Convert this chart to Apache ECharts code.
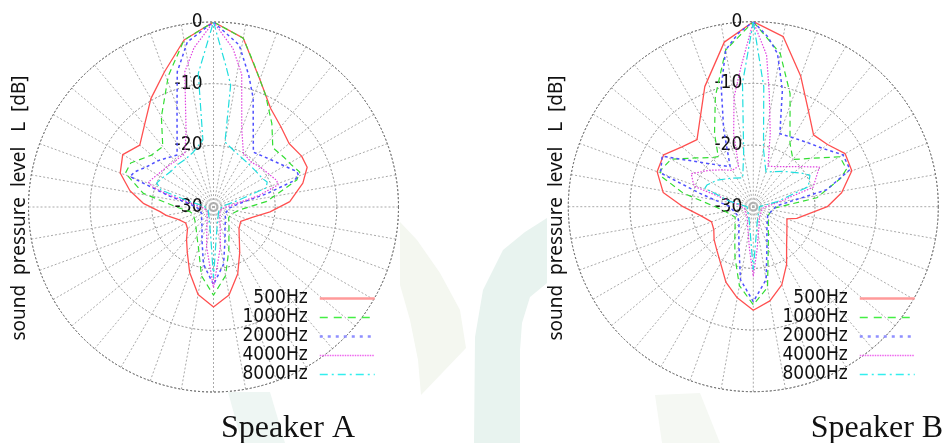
<!DOCTYPE html>
<html>
<head>
    <meta charset="utf-8">
    <title>Speaker directivity</title>
    <script src="https://cdn.jsdelivr.net/npm/echarts@6/dist/echarts.min.js"></script>
    <style>
        html, body { margin: 0; padding: 0; background: #fff; }
        #main { width: 950px; height: 443px; }
    </style>
</head>
<body>
<div id="main"></div>
<script type="text/javascript">
// frequencies (legend) and radius tick labels
var freqs = ['500Hz', '1000Hz', '2000Hz', '4000Hz', '8000Hz'];
var levelTicks = [-30, -20, -10, 0];
var speakers = ['Speaker A', 'Speaker B'];

// [angle in deg clockwise from front, level in dB]  -- Speaker A
var a500 = [[0,0],[10,-2.2],[20,-8],[30,-11.5],[40,-13],[50,-14],[60,-13.5],[67,-13.5],[75,-15],[86,-17.6],[95,-20.8],[105,-23.5],[118,-25],[130,-24.6],[140,-23.5],[150,-21.5],[160,-18.5],[170,-15.5],[180,-13.8],[190,-15.6],[200,-18.7],[210,-21.5],[220,-23.2],[230,-24.5],[240,-24.8],[250,-24],[260,-22.2],[265,-21.3],[273,-18.6],[281,-16.2],[290,-13.9],[300,-13],[310,-14.4],[320,-12.6],[330,-9.7],[340,-6.7],[350,-2.5],[360,0]];
var a1000 = [[0,0],[10,-2.2],[16,-6],[25,-10],[35,-13.5],[45,-16.4],[55,-16],[62,-15.6],[68,-14.9],[72,-15.8],[84,-21.3],[96,-25.7],[110,-26.8],[125,-27],[140,-26.1],[150,-25],[160,-22.7],[170,-18.7],[180,-15.7],[190,-18.7],[200,-22.9],[210,-24.6],[220,-25.6],[235,-26.3],[250,-26.5],[259,-26.1],[270,-24],[281,-18.4],[291,-14.7],[298,-14.8],[310,-16.9],[320,-17.2],[330,-13.1],[341,-7.5],[350,-2.5],[360,0]];
var a2000 = [[0,0],[9,-3.4],[15,-7.9],[20,-11.2],[30,-17.1],[36,-19],[50,-18],[60,-16.7],[67,-15.3],[70,-15.3],[72,-16.4],[76,-21.1],[82,-25.7],[95,-27.5],[120,-27.8],[140,-27],[150,-26.3],[160,-24.5],[170,-20.6],[180,-17.4],[190,-20.6],[200,-24.5],[210,-26.3],[220,-27],[240,-27.8],[265,-27.5],[278,-26],[284,-22.6],[290,-15.6],[294,-16],[300,-17.2],[310,-18.3],[325,-19.7],[330,-18.2],[340,-12.7],[345,-7.3],[351,-2.9],[360,0]];
var a4000 = [[0,0],[7,-4.1],[12,-8],[20,-16.6],[29,-20],[40,-20.5],[50,-20],[60,-19.5],[67,-18.9],[71,-18.9],[76,-22.5],[82,-26.5],[95,-28.3],[120,-28.8],[150,-27.9],[160,-26.9],[170,-23.5],[180,-16.9],[190,-23.5],[200,-26.9],[210,-27.9],[240,-28.8],[265,-28.3],[279,-26.5],[285,-22.5],[288,-19.7],[291,-18.7],[300,-19.5],[310,-20],[320,-20.3],[332,-20.1],[340,-17],[348,-7.6],[353,-4],[360,0]];
var a8000 = [[0,0],[5,-7],[8,-10],[10,-19.3],[20,-20.3],[30,-20.8],[40,-21],[50,-21],[60,-20.8],[65,-20.4],[70,-20.9],[75,-26],[85,-28.5],[120,-29],[165,-27.5],[175,-25],[180,-18.5],[185,-25],[195,-27.5],[240,-29],[275,-28.5],[283,-26],[288,-21],[293,-20],[300,-20.5],[310,-21],[320,-21],[330,-21],[340,-20.5],[351,-19],[353.5,-8.2],[360,0]];

// Speaker B
var b500 = [[0,0],[10,-2],[20,-7.5],[30,-12.1],[40,-14.8],[50,-14.3],[60,-12.8],[70,-13],[81,-15.5],[90,-18],[105,-22.7],[110,-24.2],[120,-23.7],[130,-22.9],[140,-21.6],[150,-19.2],[160,-16.5],[170,-14.5],[180,-13.2],[190,-15],[200,-17],[210,-19.4],[220,-20.8],[230,-21.7],[240,-22.6],[250,-22.8],[260,-21.4],[270,-18.6],[279,-15.2],[290,-13.4],[300,-13.2],[310,-14.9],[320,-15.8],[330,-12.9],[338,-9],[350,-2.9],[360,0]];
var b1000 = [[0,0],[10,-4.8],[18,-10.7],[30,-18.1],[40,-20],[50,-17.8],[60,-13.8],[68,-13.7],[72,-15.1],[82,-19.6],[95,-26.8],[120,-27.2],[140,-26.2],[150,-25.1],[160,-22.9],[170,-16.7],[180,-14.1],[190,-17],[200,-21.3],[210,-24],[220,-25.4],[240,-26.6],[264,-25],[281,-18.4],[288,-14.5],[291,-13.8],[300,-14.6],[310,-17.7],[320,-19.6],[325,-20.1],[332,-16.6],[341,-11.1],[350,-4.2],[360,0]];
var b2000 = [[0,0],[5,-2.4],[9,-4.9],[14,-10.5],[20,-17.4],[30,-17.1],[40,-16.4],[50,-15.3],[60,-13.2],[69,-13.2],[77,-17.8],[88,-26.2],[120,-27.3],[140,-26.5],[150,-25.6],[160,-23.5],[170,-18],[180,-14.6],[190,-18],[200,-23.2],[210,-25.3],[220,-26.4],[240,-27.1],[270,-26.2],[284,-21.1],[290,-14],[299,-13.1],[310,-18.8],[320,-21.2],[330,-22.5],[339,-16.6],[345,-9.9],[350,-4.2],[355,-1.8],[360,0]];
var b4000 = [[0,0],[5,-5.3],[8,-11.4],[13,-17.8],[20,-23],[30,-22.5],[40,-21.5],[50,-19.9],[59,-17.5],[72,-19.8],[80,-26],[100,-28.5],[150,-28],[165,-26.5],[175,-23],[180,-18.7],[185,-23],[195,-26.5],[210,-28],[260,-28.5],[280,-27.2],[289,-20],[291,-19.6],[298,-18.6],[310,-20.8],[320,-22.2],[330,-23.2],[340,-23],[345,-17.7],[350,-12],[355,-7.2],[360,0]];
var b8000 = [[0,0],[5,-10.5],[10,-20.5],[20,-24],[40,-22.5],[55,-20.5],[61,-19.5],[70,-20.5],[78,-26],[90,-29],[165,-27.5],[175,-25],[180,-19.8],[185,-25],[195,-27.5],[270,-29],[283,-26],[291,-21.6],[295,-21.7],[306,-22.7],[320,-24],[340,-25],[350,-21],[355,-9.9],[360,0]];

var speakerData = [[a500, a1000, a2000, a4000, a8000], [b500, b1000, b2000, b4000, b8000]];

var lineStyles = [
    { color: '#ff5050', width: 1.3, type: 'solid' },
    { color: '#33dd33', width: 1.2, type: [6, 4] },
    { color: '#5050ff', width: 1.5, type: [3, 3] },
    { color: '#e040e0', width: 1.2, type: [1.5, 1.5] },
    { color: '#20dede', width: 1.2, type: [8, 3, 2, 3] }
];
var legendLines = [
    { color: '#ff9a9a', width: 2.5, type: 'solid' },
    { color: '#44ee44', width: 1.3, type: [8, 6] },
    { color: '#8f8fff', width: 2.5, type: [3, 5] },
    { color: '#ee66ee', width: 1.3, type: [1.5, 1] },
    { color: '#33eeee', width: 1.3, type: [8, 4, 2, 4] }
];

var centers = [[213.5, 207], [753.3, 206.7]];
var narrowFont = '"Liberation Sans Narrow", "DejaVu Sans Condensed", "Noto Sans", sans-serif';
var titleFont = '"Noto Sans", "DejaVu Sans", sans-serif';

var myChart = echarts.init(document.getElementById('main'));

var polar = [], angleAxis = [], radiusAxis = [], series = [];
for (var s = 0; s < 2; s++) {
    polar.push({ center: centers[s], radius: 185 });
    angleAxis.push({
        polarIndex: s, type: 'value', min: 0, max: 360, interval: 10,
        startAngle: 90, clockwise: true,
        axisLine: { lineStyle: { color: '#777', type: [2, 2], width: 1 } },
        axisTick: { show: false }, axisLabel: { show: false },
        splitLine: { lineStyle: { color: '#aaa', type: [2, 2], width: 1 } }
    });
    radiusAxis.push({
        polarIndex: s, type: 'value', min: -30, max: 0, interval: 10,
        axisLine: { show: false }, axisTick: { show: false },
        axisLabel: { show: true, fontSize: 19, color: '#111', fontFamily: narrowFont, margin: 11,
            formatter: function (v) { return levelTicks.indexOf(v) >= 0 ? String(v) : ''; } },
        splitLine: { lineStyle: { color: '#888', type: [2, 2], width: 1 } }
    });
    for (var f = 0; f < freqs.length; f++) {
        series.push({
            name: freqs[f], type: 'line', coordinateSystem: 'polar', polarIndex: s,
            symbol: 'none', smooth: false,
            data: speakerData[s][f].map(function (p) { return [p[1], p[0]]; }),
            lineStyle: lineStyles[f], itemStyle: { color: lineStyles[f].color }
        });
    }
}

function legendFor(rightPx) {
    return {
        data: freqs.map(function (name, i) {
            return { name: name, lineStyle: legendLines[i] };
        }),
        orient: 'vertical', align: 'right', right: rightPx, top: 289,
        itemWidth: 55, itemHeight: 19, itemGap: 0, padding: 0,
        itemStyle: { opacity: 0 },
        textStyle: { fontSize: 19, color: '#111', fontFamily: narrowFont, lineHeight: 19, padding: [0, 7, 0, 0] },
        selectedMode: false
    };
}

function bandShape(points, fill) {
    return { type: 'polygon', silent: true, z: -10, shape: { points: points }, style: { fill: fill } };
}

var serifTitle = { fontFamily: '"Liberation Serif", "DejaVu Serif", serif', fontSize: 32, fontWeight: 'normal', color: '#111' };

var option = {
    animation: false,
    backgroundColor: '#fff',
    title: [
        { text: speakers[0], left: 283, top: 408, textAlign: 'center', textStyle: serifTitle },
        { text: speakers[1], left: 872, top: 408, textAlign: 'center', textStyle: serifTitle }
    ],
    legend: [legendFor(574), legendFor(34)],
    polar: polar,
    angleAxis: angleAxis,
    radiusAxis: radiusAxis,
    graphic: [
        // faint background watermark
        bandShape([[400,222],[417,240],[440,273],[460,310],[466,348],[421,395],[418,360],[410,320],[400,285]], '#f4f7f0'),
        bandShape([[547,218],[525,232],[503,250],[483,290],[475,337],[474,443],[520,443],[520,350],[522,323],[530,297],[547,283]], '#e8f3ef'),
        bandShape([[228,392],[270,392],[285,443],[242,443]], '#eef6f3'),
        bandShape([[655,395],[700,393],[720,443],[662,443]], '#f5f8f3'),
        { type: 'text', x: 20, y: 208, rotation: Math.PI / 2, silent: true,
          style: { text: 'sound  pressure  level   L  [dB]', fontSize: 19, fontFamily: titleFont, fill: '#111', align: 'center', verticalAlign: 'middle' } },
        { type: 'text', x: 557, y: 208, rotation: Math.PI / 2, silent: true,
          style: { text: 'sound  pressure  level   L  [dB]', fontSize: 19, fontFamily: titleFont, fill: '#111', align: 'center', verticalAlign: 'middle' } }
    ],
    series: series
};
myChart.setOption(option);
</script>
</body>
</html>
